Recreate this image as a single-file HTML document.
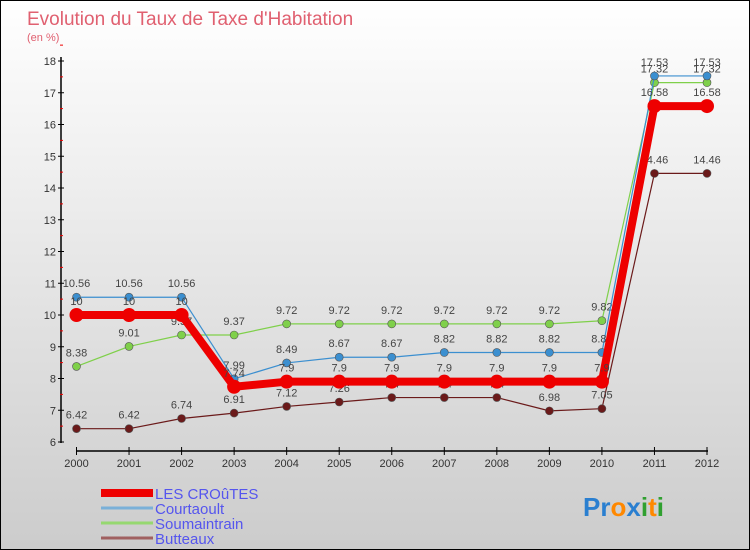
<!DOCTYPE html>
<html><head><meta charset="utf-8"><style>
body{margin:0}
#c{position:relative;width:750px;height:550px;box-sizing:border-box;border:1px solid #000;background:linear-gradient(#fff,#ccc);font-family:"Liberation Sans",sans-serif;overflow:hidden}
</style></head><body>
<div id="c">
<svg id="s" width="750" height="550" style="position:absolute;left:0;top:0">
<text x="26" y="24" font-size="19" fill="#e06070">Evolution du Taux de Taxe d'Habitation</text>
<text x="26" y="40" font-size="11" fill="#e06070">(en %)</text>
</svg>
</div>
<script>
const years=["2000","2001","2002","2003","2004","2005","2006","2007","2008","2009","2010","2011","2012"];
const yTicks=[6,7,8,9,10,11,12,13,14,15,16,17,18];
const croutes=[10,10,10,7.74,7.9,7.9,7.9,7.9,7.9,7.9,7.9,16.58,16.58];
const courtaoult=[10.56,10.56,10.56,7.99,8.49,8.67,8.67,8.82,8.82,8.82,8.82,17.53,17.53];
const soumaintrain=[8.38,9.01,9.37,9.37,9.72,9.72,9.72,9.72,9.72,9.72,9.82,17.32,17.32];
const butteaux=[6.42,6.42,6.74,6.91,7.12,7.26,7.4,7.4,7.4,6.98,7.05,14.46,14.46];
const seriesNames=["LES CROûTES","Courtaoult","Soumaintrain","Butteaux"];
const NS="http://www.w3.org/2000/svg",svg=document.getElementById('s');
const X=i=>75.5+i*(706-75.5)/(years.length-1);
const Y=v=>441-(v-6)*(441-60)/12;
function el(t,a,n){const e=document.createElementNS(NS,t);for(const k in a)e.setAttribute(k,a[k]);


svg.appendChild(e);return e;}
el('line',{x1:60,y1:56,x2:60,y2:442,stroke:'#000','stroke-width':1.5},'y-axis');
yTicks.forEach(v=>{el('line',{x1:57,y1:Y(v),x2:63,y2:Y(v),stroke:'#000'},'y-tick');
el('line',{x1:59,y1:Y(v+0.5),x2:62,y2:Y(v+0.5),stroke:'#e00'},'y-minor-tick');
const t=el('text',{x:55,y:Y(v)+4,'font-size':11,'text-anchor':'end',fill:'#333'},'y-tick-label');t.textContent=v;});
el('line',{x1:75,y1:450,x2:707,y2:450,stroke:'#000','stroke-width':1.5},'x-axis');
years.forEach((y,i)=>{el('line',{x1:X(i),y1:446,x2:X(i),y2:454,stroke:'#000'},'x-tick');
const t=el('text',{x:X(i),y:466,'font-size':11,'text-anchor':'middle',fill:'#333'},'x-tick-label');t.textContent=y;});
function series(d,col,w,r,name,lbl){
el('polyline',{points:d.map((v,i)=>X(i)+','+Y(v)).join(' '),fill:'none',stroke:col,'stroke-width':w,'stroke-linejoin':'round'},name+'-line');
d.forEach((v,i)=>{el('circle',{cx:X(i),cy:Y(v),r:r,fill:col,stroke:'#555','stroke-width':r>5?0:0.6},name+'-point');
const t=el('text',{x:X(i),y:Y(v)+lbl,'font-size':11,'text-anchor':'middle',fill:'#444'},name+'-value');t.textContent=v;});}
series(butteaux,'#6b1a1a',1.2,4,'butteaux',-10);
series(soumaintrain,'#7fd04a',1.2,4,'soumaintrain',-10);
series(courtaoult,'#3b8fd0',1.2,4,'courtaoult',-10);
series(croutes,'#ee0000',8,7,'croutes',-10);
const lc=['#ee0000','#7ab0d8','#96d870','#a06060'],lw=[8,3,3,3];
seriesNames.forEach((n,i)=>{const y=492+i*15;
el('line',{x1:100,y1:y,x2:152,y2:y,stroke:lc[i],'stroke-width':lw[i]},'legend-swatch');
const t=el('text',{x:154,y:y+6,'font-size':15,fill:'#5555ee'},'legend-entry');t.textContent=n;});
const lg=el('text',{x:582,y:515,'font-size':26,'font-weight':'bold'},'proxiti-logo');
[['Pr','#2a7fd0'],['o','#ff8800'],['x','#2a7fd0'],['i','#30a030'],['t','#ff8800'],['i','#30a030']].forEach(p=>{const s=document.createElementNS(NS,'tspan');s.setAttribute('fill',p[1]);s.textContent=p[0];lg.appendChild(s);});
</script>
</body></html>
